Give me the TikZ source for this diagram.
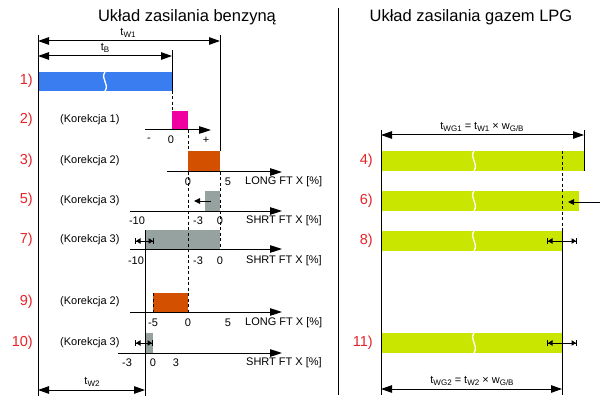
\documentclass[tikz,border=0pt]{standalone}
\usepackage{fontspec}
\setmainfont{Liberation Sans}
\usetikzlibrary{arrows.meta}
\definecolor{rowred}{RGB}{230,35,40}
\definecolor{barblue}{RGB}{58,125,240}
\definecolor{barpink}{RGB}{240,0,160}
\definecolor{barorange}{RGB}{210,80,0}
\definecolor{bargray}{RGB}{150,162,160}
\definecolor{bargreen}{RGB}{200,230,0}
\newcommand{\lsub}[1]{\raisebox{-0.4ex}{\fontsize{8}{9}\selectfont #1}}
\begin{document}
\begin{tikzpicture}[x=1pt,y=-1pt,
  every node/.style={inner sep=0pt, font=\fontsize{11}{13}\selectfont},
  rowlbl/.style={text=rowred, font=\fontsize{14.5}{16}\selectfont, anchor=east},
  korlbl/.style={anchor=west},
  titlelbl/.style={font=\fontsize{16.5}{19}\selectfont},
  axis/.style={line width=1pt, -{Triangle[length=12pt,width=7.5pt]}},
  dim/.style={line width=1pt, {Triangle[length=11pt,width=7.5pt]}-{Triangle[length=11pt,width=7.5pt]}},
  guide/.style={line width=1pt},
  dguide/.style={line width=1pt, dash pattern=on 3pt off 2.5pt},
  markbar/.style={line width=1pt, {Bar[width=6pt]Triangle[length=4.5pt,width=5.5pt]}-{Triangle[length=4.5pt,width=5.5pt]Bar[width=6pt]}},
  wave/.style={white, line width=1.3pt}
]
\useasboundingbox (0,0) rectangle (600,401);

% ---------- titles ----------
\node[titlelbl] (t1) at (187,17) {Układ zasilania benzyną};
\node[titlelbl] (t2) at (471,17) {Układ zasilania gazem LPG};
\coordinate (s0) at (338,8); \coordinate (s1) at (338,395);
\draw[guide] (s0) -- (s1);

% ---------- left: fills ----------
\fill[barblue] (38,72) rectangle (172,91);
\draw[wave] (105,72) .. controls (100,79) and (110,84) .. (105,91);
\fill[barpink] (172,111) rectangle (188,130);
\fill[barorange] (188,151) rectangle (220,172);
\fill[bargray] (205,191) rectangle (220,211);
\fill[bargray] (145,230) rectangle (220,249);
\fill[barorange] (153,293) rectangle (188,312);
\fill[bargray] (145,333) rectangle (153,353);

% ---------- left: guides ----------
\coordinate (L0) at (38,35);  \coordinate (L1) at (38,396);
\coordinate (A0) at (220,35); \coordinate (A1) at (220,151);
\coordinate (A2) at (220,172); \coordinate (A3) at (220,249);
\coordinate (B0) at (172,50); \coordinate (B1) at (172,91); \coordinate (B2) at (172,111);
\coordinate (C0) at (188,130); \coordinate (C1) at (188,151);
\coordinate (C2) at (188,172); \coordinate (C3) at (188,312);
\coordinate (D0) at (153,293); \coordinate (D1) at (153,312);
\coordinate (E0) at (145,230); \coordinate (E1) at (145,396);
\draw[guide] (L0) -- (L1);
\draw[guide] (A0) -- (A1);
\draw[dguide] (A2) -- (A3);
\draw[guide] (B0) -- (B1);
\draw[dguide] (B1) -- (B2);
\draw[dguide] (C0) -- (C1);
\draw[dguide] (C2) -- (C3);
\draw[dguide] (D0) -- (D1);
\draw[guide] (E0) -- (E1);

% ---------- left: dimensions ----------
\coordinate (w1a) at (38,41); \coordinate (w1b) at (220,41);
\draw[dim] (w1a) -- (w1b);
\node (tw1) at (128,33) {t\lsub{W1}};
\coordinate (tba) at (38,56); \coordinate (tbb) at (172,56);
\draw[dim] (tba) -- (tbb);
\node (tb) at (105,48) {t\lsub{B}};
\coordinate (w2a) at (38,390); \coordinate (w2b) at (145,390);
\draw[dim] (w2a) -- (w2b);
\node (tw2) at (92,382) {t\lsub{W2}};

% ---------- left: axes ----------
\coordinate (x2a) at (145,130); \coordinate (x2b) at (211,130);
\draw[axis] (x2a) -- (x2b);
\node at (149,140) {-}; \node at (171,140) {0}; \node at (206,140) {+};

\coordinate (x3a) at (167,172); \coordinate (x3b) at (282,172);
\draw[axis] (x3a) -- (x3b);
\node at (188,182) {0}; \node at (228,182) {5};
\node[anchor=west] at (245,182) {LONG FT X [\%]};

\coordinate (x5a) at (130,211); \coordinate (x5b) at (282,211);
\draw[axis] (x5a) -- (x5b);
\node at (137,221) {-10}; \node at (198,221) {-3}; \node at (220,221) {0};
\node[anchor=west] at (246,221) {SHRT FT X [\%]};
\coordinate (g5a) at (211,201); \coordinate (g5b) at (194,201);
\draw[line width=1pt,-{Triangle[length=6pt,width=5.5pt]}] (g5a) -- (g5b);

\coordinate (x7a) at (130,249); \coordinate (x7b) at (282,249);
\draw[axis] (x7a) -- (x7b);
\node at (136,261) {-10}; \node at (198,261) {-3}; \node at (220,261) {0};
\node[anchor=west] at (246,261) {SHRT FT X [\%]};
\coordinate (m7a) at (135,241); \coordinate (m7b) at (154,241);
\draw[markbar] (m7a) -- (m7b);

\coordinate (x9a) at (130,312); \coordinate (x9b) at (282,312);
\draw[axis] (x9a) -- (x9b);
\node at (153,323) {-5}; \node at (188,323) {0}; \node at (228,323) {5};
\node[anchor=west] at (245,323) {LONG FT X [\%]};

\coordinate (x10a) at (118,353); \coordinate (x10b) at (282,353);
\draw[axis] (x10a) -- (x10b);
\node at (127,363) {-3}; \node at (153,363) {0}; \node at (176,363) {3};
\node[anchor=west] at (246,363) {SHRT FT X [\%]};
\coordinate (m10a) at (135,343); \coordinate (m10b) at (153,343);
\draw[markbar] (m10a) -- (m10b);

% ---------- left: labels ----------
\node[rowlbl] (r1) at (33,81) {1)};
\node[rowlbl] (r2) at (33,120) {2)};
\node[rowlbl] (r3) at (33,161) {3)};
\node[rowlbl] (r5) at (33,200) {5)};
\node[rowlbl] (r7) at (33,240) {7)};
\node[rowlbl] (r9) at (33,302) {9)};
\node[rowlbl] (r10) at (33,343) {10)};
\node[korlbl] (k2) at (60,120) {(Korekcja 1)};
\node[korlbl] (k3) at (60,161) {(Korekcja 2)};
\node[korlbl] (k5) at (60,201) {(Korekcja 3)};
\node[korlbl] (k7) at (60,240) {(Korekcja 3)};
\node[korlbl] (k9) at (60,302) {(Korekcja 2)};
\node[korlbl] (k10) at (60,343) {(Korekcja 3)};

% ---------- right ----------
\fill[bargreen] (381,151) rectangle (584,171);
\fill[bargreen] (381,191) rectangle (579,211);
\fill[bargreen] (381,231) rectangle (562,251);
\fill[bargreen] (381,333) rectangle (562,353);
\foreach \yy in {151,191,231,333}{
  \draw[wave] (474,\yy) .. controls (469,\yy+7) and (479,\yy+12) .. (474,\yy+20);
}
\coordinate (R0) at (381,130); \coordinate (R1) at (381,395);
\coordinate (Q0) at (584,130); \coordinate (Q1) at (584,171);
\coordinate (P0) at (562,151); \coordinate (P1) at (562,231); \coordinate (P2) at (562,395);
\draw[guide] (R0) -- (R1);
\draw[guide] (Q0) -- (Q1);
\draw[dguide] (P0) -- (P1);
\draw[guide] (P1) -- (P2);

\coordinate (g1a) at (381,135); \coordinate (g1b) at (584,135);
\draw[dim] (g1a) -- (g1b);
\node (twg1) at (482,127) {t\lsub{WG1} = t\lsub{W1} × w\lsub{G/B}};
\coordinate (g2a) at (381,389); \coordinate (g2b) at (562,389);
\draw[dim] (g2a) -- (g2b);
\node (twg2) at (472,381) {t\lsub{WG2} = t\lsub{W2} × w\lsub{G/B}};

\coordinate (a6a) at (600,202); \coordinate (a6b) at (568,202);
\draw[line width=1pt,-{Triangle[length=6pt,width=5.5pt]}] (a6a) -- (a6b);
\coordinate (m8a) at (547,241); \coordinate (m8b) at (577,241);
\draw[markbar] (m8a) -- (m8b);
\coordinate (m11a) at (547,343); \coordinate (m11b) at (577,343);
\draw[markbar] (m11a) -- (m11b);

\node[rowlbl] (r4) at (373,161) {4)};
\node[rowlbl] (r6) at (373,201) {6)};
\node[rowlbl] (r8) at (373,241) {8)};
\node[rowlbl] (r11) at (373,343) {11)};
\end{tikzpicture}
\end{document}
